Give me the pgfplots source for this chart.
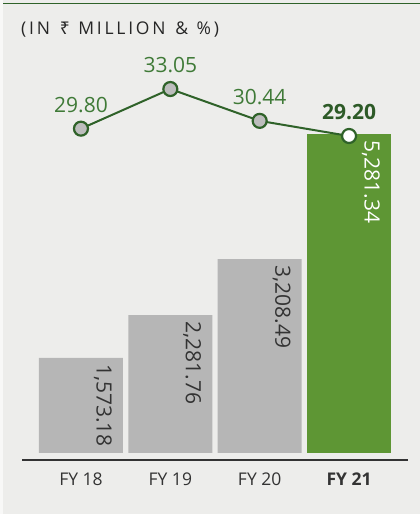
\documentclass[border=0pt]{standalone}
\usepackage{pgfplots}
\pgfplotsset{compat=1.18}
\usepackage{fontspec}
\setmainfont{Open Sans}
\newfontfamily\rupeefont{Noto Sans}
\definecolor{bg}{HTML}{EDEDEB}
\definecolor{bargray}{HTML}{B6B6B6}
\definecolor{bargreen}{HTML}{5E9634}
\definecolor{linegreen}{HTML}{2F6229}
\definecolor{labgreen}{HTML}{3F7A37}
\definecolor{boldgreen}{HTML}{2D5A27}
\definecolor{markgray}{HTML}{BDBDBD}
\definecolor{txt}{HTML}{333333}
\pgfplotstableread{
x y label
0 1573.18 1,573.18
1 2281.76 2,281.76
2 3208.49 3,208.49
}\graytab
\pgfplotstableread{
x y label
3 5281.34 5,281.34
}\greentab
\pgfplotstableread{
x y label
0 29.80 29.80
1 33.05 33.05
2 30.44 30.44
3 29.20 29.20
}\linetab
\pgfplotstableread{
x y label
0 29.80 29.80
1 33.05 33.05
2 30.44 30.44
}\linetabA
\pgfplotstableread{
x y label
3 29.20 29.20
}\linetabB
\begin{document}
\begin{tikzpicture}
\useasboundingbox (0bp,0bp) rectangle (420bp,514bp);
\fill[bg] (0bp,0bp) rectangle (420bp,514bp);
\fill[white!60!bg] (0bp,0bp) rectangle (3bp,514bp);
\draw[linegreen, line width=1bp] (3bp,510bp) -- (420bp,510bp);
\node[anchor=west, text=black!85, inner sep=0pt, font=\fontsize{17.5bp}{20bp}\selectfont\addfontfeatures{LetterSpace=16}] at (21bp,484bp) {(IN\hspace{2.5bp} {\rupeefont\addfontfeatures{LetterSpace=16}₹}\hspace{1bp} MILLION\hspace{2.5bp} \&\hspace{1bp} \%)};
\begin{axis}[at={(22bp,54bp)}, anchor=south west, scale only axis, width=386bp, height=400bp,
  xmin=-0.66, xmax=3.66, ymin=-116, ymax=6507,
  axis x line*=bottom, axis y line=none, x axis line style={-, draw=txt, line width=1.2bp},
  xtick={0,1,2,3}, xticklabels={FY 18,FY 19,FY 20,\textbf{FY 21}}, major tick length=0pt,
  xticklabel style={font=\fontsize{17.5bp}{20bp}\selectfont, text=txt, yshift=-9bp},
  clip=false, ybar, bar width=0.94, bar shift=0pt]
\addplot[fill=bargray, draw=none, nodes near coords, point meta=explicit symbolic,
  every node near coord/.append style={font=\fontsize{21bp}{24bp}\selectfont, text=txt, inner sep=0pt, xshift=31bp, yshift=-6bp, rotate=-90, anchor=north west}]
  table[x=x, y=y, meta=label] {\graytab};
\addplot[fill=bargreen, draw=none, nodes near coords, point meta=explicit symbolic,
  every node near coord/.append style={font=\fontsize{21bp}{24bp}\selectfont, text=white, inner sep=0pt, xshift=31bp, yshift=-6bp, rotate=-90, anchor=north west}]
  table[x=x, y=y, meta=label] {\greentab};
\end{axis}
\begin{axis}[at={(22bp,54bp)}, anchor=south west, scale only axis, width=386bp, height=400bp,
  xmin=-0.66, xmax=3.66, ymin=2.64, ymax=35.43, axis lines=none, clip=false]
\addplot[linegreen, line width=2bp, no marks] table[x=x, y=y] {\linetab};
\addplot[only marks, mark=*, mark size=7bp, mark options={fill=markgray, draw=linegreen, line width=2.2bp},
  nodes near coords, point meta=explicit symbolic,
  every node near coord/.append style={font=\fontsize{21bp}{24bp}\selectfont, text=labgreen, inner sep=0pt, anchor=south, yshift=15bp}]
  table[x=x, y=y, meta=label] {\linetabA};
\addplot[only marks, mark=*, mark size=7bp, mark options={fill=white, draw=linegreen, line width=2.2bp},
  nodes near coords, point meta=explicit symbolic,
  every node near coord/.append style={font=\fontsize{21bp}{24bp}\selectfont\bfseries, text=boldgreen, inner sep=0pt, anchor=south, yshift=15bp}]
  table[x=x, y=y, meta=label] {\linetabB};
\end{axis}
\end{tikzpicture}
\end{document}
